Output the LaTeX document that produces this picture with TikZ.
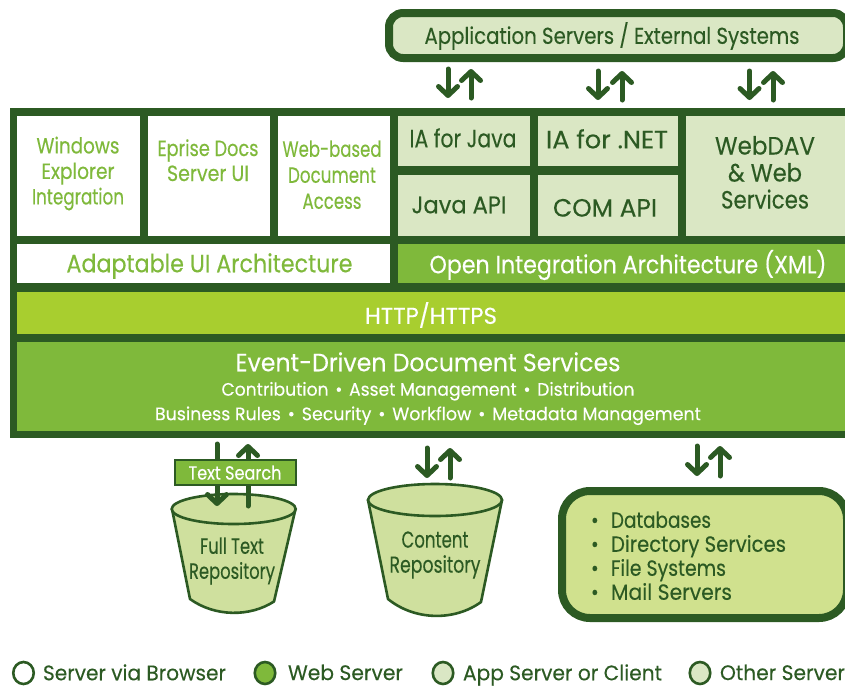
\documentclass[tikz,border=0pt]{standalone}
\usepackage{graphicx}
\usepackage{fontspec}
\setmainfont[FakeStretch=0.85,FakeBold=0.25]{Poppins}
\usetikzlibrary{arrows.meta,shapes.geometric}
\definecolor{dark}{HTML}{2C5A23}
\definecolor{mid}{HTML}{7FB93B}
\definecolor{lime}{HTML}{A8CE2F}
\definecolor{pale}{HTML}{DAE7C4}
\definecolor{pail}{HTML}{CFE09E}
\definecolor{stor}{HTML}{D0E18E}
\newcommand\tw[2]{\resizebox{#1pt}{\height}{\vphantom{Ap}#2}}
\newcommand\bul[2]{\makebox[20pt][l]{•}\tw{#1}{#2}}
\newcommand\cell[6]{\node[cellbox,fill=#6,minimum width={(#4-#2)*1pt},minimum height={(#5-#3)*1pt}] (#1) at ({(#2+#4)/2},{(#3+#5)/2}) {};}
\newcommand\biarrow[5]{%
  \coordinate (#1dt) at (#2,#4); \coordinate (#1db) at (#2,#5);
  \coordinate (#1ut) at (#3,#4); \coordinate (#1ub) at (#3,#5);
  \draw[flow] (#1dt) -- (#1db); \draw[flow] (#1ub) -- (#1ut);}
\tikzset{
  cellbox/.style={rectangle,inner sep=0pt,outer sep=0pt},
  flow/.style={draw=dark,line width=5pt,line cap=round,-{Straight Barb[length=9pt,width=19pt,round,line width=5pt]}},
  lbl/.style={inner sep=0pt,outer sep=0pt,align=center,yshift=-2pt,font=\fontsize{#1}{#1}\selectfont},
  lbl/.default=24,
  two/.style n args={2}{inner sep=0pt,outer sep=0pt,align=center,yshift=-1.5pt,font=\fontsize{#1}{#2}\selectfont},
  bucket/.style={draw=dark,line width=2.6pt,fill=pail,line join=round},
  lgd/.style={draw=dark,line width=2.6pt,ellipse,inner sep=0pt,outer sep=0pt,minimum width=20.5pt,minimum height=22pt},
  lgdt/.style={inner sep=0pt,outer sep=0pt,anchor=west,text=dark,yshift=-2pt,font=\fontsize{21}{21}\selectfont},
}
\begin{document}
\begin{tikzpicture}[x=1pt,y=-1pt]
\useasboundingbox (0,0) rectangle (845,686);
\clip (0,0) rectangle (845,686);
% top box
\node[cellbox,draw=dark,fill=pale,line width=8pt,rounded corners=14pt,minimum width=458pt,minimum height=45pt] (apps) at (618,35.5) {};
\node[lbl=23,text=dark] (appst) at (612,34) {\tw{375}{Application Servers / External Systems}};
\biarrow{a}{448}{471}{69}{98}
\biarrow{b}{598}{622}{71}{100}
\biarrow{c}{749.5}{773}{71}{100}
% main frame
\cell{frame}{10}{108}{846}{438}{dark}
\cell{win}{17}{116}{140}{236}{white}
\cell{epr}{148}{116}{270}{236}{white}
\cell{web}{278}{116}{390}{236}{white}
\cell{adapt}{17}{244}{390}{283}{white}
\cell{iaj}{397.5}{116}{530}{166}{pale}
\cell{japi}{397.5}{175}{530}{236}{pale}
\cell{ian}{538}{116}{678}{166}{pale}
\cell{com}{538}{175}{678}{236}{pale}
\cell{dav}{686}{116}{846}{236}{pale}
\cell{open}{397.5}{244}{846}{283}{mid}
\cell{http}{17}{292}{846}{334}{lime}
\cell{event}{17}{342}{846}{431}{mid}
\node[two={22}{25.5},text=mid] (wint) at (78,172) {\tw{83}{Windows}\\\tw{73}{Explorer}\\\tw{92}{Integration}};
\node[two={22}{25},text=mid] (eprt) at (208,161.5) {\tw{101}{Eprise Docs}\\\tw{82}{Server UI}};
\node[two={22}{26},text=mid] (webt) at (332,176) {\tw{99}{Web-based}\\\tw{88}{Document}\\\tw{59}{Access}};
\node[lbl=25,text=mid] (adaptt) at (209.5,264) {\tw{286}{Adaptable UI Architecture}};
\node[lbl=25,text=dark] (iajt) at (463,139) {\tw{107}{IA for Java}};
\node[lbl=24,text=dark] (japit) at (459,206) {\tw{95}{Java API}};
\node[lbl=25,text=dark] (iant) at (607,140) {\tw{122}{IA for .NET}};
\node[lbl=25,text=dark] (comt) at (605,209) {\tw{104}{COM API}};
\node[two={25}{27},text=dark] (davt) at (765,174) {\tw{100}{WebDAV}\\\tw{74}{\& Web}\\\tw{88}{Services}};
\node[lbl=25,text=white] (opent) at (628,263) {\tw{397}{Open Integration Architecture (XML)}};
\node[lbl=23,text=white] (httpt) at (431,314) {\tw{132}{HTTP/HTTPS}};
\node[lbl=25,text=white] (eventt) at (428,363) {\tw{385}{Event-Driven Document Services}};
\node[two={18}{24.5},text=white] (events) at (428,402) {\tw{413}{Contribution\,\,•\,\,Asset Management\,\,•\,\,Distribution}\\\tw{546}{Business Rules\,\,•\,\,Security\,\,•\,\,Workflow\,\,•\,\,Metadata Management}};
% full text bucket
\draw[bucket] (172,509) -- (190,599) .. controls (215,617) and (250,617) .. (274,601.5) -- (295.5,509) -- cycle;
\node[cellbox,draw=dark,fill=pail,ellipse,line width=2.6pt,minimum width=124pt,minimum height=30pt] (ftop) at (233.7,509) {};
\node[two={22}{25},text=dark] (ftt) at (232,559.5) {\tw{64}{Full Text}\\\tw{86}{Repository}};
% lower arrows
\biarrow{d}{217}{248}{444}{506}
\biarrow{e}{427}{450}{448}{478}
\biarrow{f}{697}{720}{446}{476}
\node[cellbox,draw=dark,fill=mid,line width=2pt,minimum width=121pt,minimum height=25pt] (ts) at (235,472.5) {};
\node[lbl=19,text=white] (tst) at (235,473) {\tw{93}{Text Search}};
% content bucket
\draw[bucket] (368,500) -- (388,599) .. controls (415,621) and (455,621) .. (481,602) -- (502,500) -- cycle;
\node[cellbox,draw=dark,fill=pail,ellipse,line width=2.6pt,minimum width=134pt,minimum height=32pt] (ctop) at (435,500) {};
\node[two={23}{25},text=dark] (ct) at (435,553.5) {\tw{67}{Content}\\\tw{91}{Repository}};
% stores
\node[cellbox,draw=dark,fill=stor,line width=8pt,rounded corners=28pt,minimum width=285pt,minimum height=127pt] (stores) at (704.5,554.5) {};
\node[two={22}{24},text=dark,anchor=west,align=left] (storest) at (591,557) {\bul{100}{Databases}\\\bul{175}{Directory Services}\\\bul{115}{File Systems}\\\bul{121}{Mail Servers}};
% legend
\node[lgd,fill=white] (l1) at (23.5,673) {};
\node[lgd,fill=mid] (l2) at (265,673) {};
\node[lgd,fill=pale] (l3) at (443,673) {};
\node[lgd,fill=pale] (l4) at (700,673) {};
\node[lgdt] (l1t) at (43,673) {\tw{183}{Server via Browser}};
\node[lgdt] (l2t) at (288,673) {\tw{115}{Web Server}};
\node[lgdt] (l3t) at (463,673) {\tw{199}{App Server or Client}};
\node[lgdt] (l4t) at (720,673) {\tw{125}{Other Server}};
\end{tikzpicture}
\end{document}
